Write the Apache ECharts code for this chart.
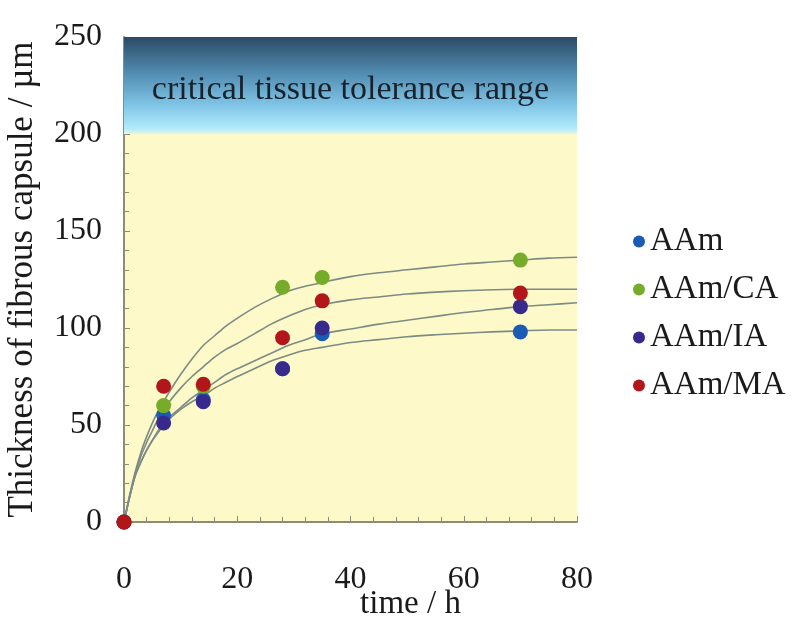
<!DOCTYPE html>
<html>
<head>
<meta charset="utf-8">
<script src="https://cdn.jsdelivr.net/npm/echarts@6/dist/echarts.min.js"></script>
<style>
  html, body { margin: 0; padding: 0; background: #fff; }
  #chart { width: 798px; height: 618px; }
</style>
</head>
<body>
<div id="chart"></div>
<script>
// measured points (time in h, thickness in um)
const timePoints = [0, 7, 14, 28, 35, 70];
const aam = [0, 55, 63, 79, 97, 98];
const aamCa = [0, 60, 70, 121, 126, 135];
const aamIa = [0, 51, 62, 79, 100, 111];
const aamMa = [0, 70, 71, 95, 114, 118];

// fitted curves
const fitTimes = [0, 1, 2, 3, 4, 5, 6, 7, 8, 10, 12, 14, 16, 18, 20, 23, 26, 29, 32, 35, 40, 45, 50, 55, 60, 65, 70, 75, 80];
const fitAam = [0, 13, 24, 31, 37, 42, 46, 50, 53, 58, 62, 65, 69, 72, 75, 79, 83, 86, 88.5, 90, 92.5, 94, 95.5, 96.5, 97.3, 98, 98.5, 99, 99];
const fitAamCa = [0, 14, 26, 36, 44, 51, 57, 62, 67, 76, 84, 91, 96, 101, 105, 110.5, 115, 119, 121.5, 123.5, 126.5, 128.5, 130, 131.5, 133, 134, 135, 136, 136.5];
const fitAamIa = [0, 13, 24, 31, 37, 42, 47, 51, 54, 59, 64, 68, 72, 76, 79, 83, 87, 91, 94, 97, 99.5, 102, 104, 106, 108, 109.5, 111, 112, 113];
const fitAamMa = [0, 13, 25, 34, 41, 47, 53, 58, 62, 69, 75, 80, 85, 89, 92, 97, 102, 106, 109.5, 112, 114.5, 116, 117.5, 118.5, 119.2, 119.7, 120, 120, 120];

const bandRange = [200, 250];
const seriesNames = ['AAm', 'AAm/CA', 'AAm/IA', 'AAm/MA'];
const dotColors = ['#1b5bb4', '#76ac2a', '#38298c', '#b2161b'];

const font = 'Liberation Serif';
const pair = (xs, ys) => xs.map((x, i) => [x, ys[i]]);

const fitLine = (ys) => ({
  type: 'line',
  data: pair(fitTimes, ys),
  smooth: 0.3,
  showSymbol: false,
  silent: true,
  z: 2,
  lineStyle: { color: '#7d8b86', width: 1.6 }
});

const dots = (name, ys, color) => ({
  name: name,
  type: 'scatter',
  data: pair(timePoints, ys),
  symbolSize: 15,
  z: 5,
  itemStyle: { color: color, opacity: 1 }
});

const option = {
  backgroundColor: '#ffffff',
  animation: false,
  grid: {
    left: 124, right: 221, top: 37, bottom: 96,
    containLabel: false,
    outerBoundsMode: 'none',
    show: true, backgroundColor: '#fdf9c8', borderWidth: 0
  },
  legend: {
    data: seriesNames,
    orient: 'vertical',
    left: 628, top: 220,
    itemGap: 15,
    itemWidth: 12, itemHeight: 12,
    icon: 'circle',
    textStyle: { fontFamily: font, fontSize: 33, color: '#1a1a1a' }
  },
  xAxis: {
    type: 'value',
    min: 0, max: 80, interval: 20,
    name: 'time / h',
    nameLocation: 'middle',
    nameGap: 66,
    nameMoveOverlap: false,
    nameTextStyle: { fontFamily: font, fontSize: 33, color: '#1a1a1a', padding: [0, 0, 0, 120] },
    axisLine: { lineStyle: { color: '#8d8c78', width: 2 } },
    axisTick: { inside: true, length: 6, lineStyle: { color: '#8d8c78' } },
    minorTick: { show: true, splitNumber: 5, length: 5, lineStyle: { color: '#8d8c78' } },
    splitLine: { show: false },
    axisLabel: { fontFamily: font, fontSize: 32, color: '#1a1a1a', margin: 42 }
  },
  yAxis: {
    type: 'value',
    min: 0, max: 250, interval: 50,
    name: 'Thickness of fibrous capsule / \u00b5m',
    nameLocation: 'middle',
    nameGap: 84,
    nameMoveOverlap: false,
    nameTextStyle: { fontFamily: font, fontSize: 35, color: '#1a1a1a' },
    axisLine: { lineStyle: { color: '#8d8c78', width: 2 } },
    axisTick: { inside: true, length: 6, lineStyle: { color: '#8d8c78' } },
    minorTick: { show: true, splitNumber: 5, length: 5, lineStyle: { color: '#8d8c78' } },
    splitLine: { show: false },
    axisLabel: { fontFamily: font, fontSize: 32, color: '#1a1a1a', margin: 22 }
  },
  series: [
    {
      type: 'line',
      data: [],
      silent: true,
      z: 1,
      markArea: {
        silent: true,
        itemStyle: {
          color: new echarts.graphic.LinearGradient(0, 0, 0, 1, [
            { offset: 0, color: '#2c4a64' },
            { offset: 0.35, color: '#4f88ad' },
            { offset: 0.7, color: '#7fc4e6' },
            { offset: 0.95, color: '#b4ecfb' },
            { offset: 1, color: '#e8f6e0' }
          ])
        },
        label: {
          show: true,
          position: 'inside',
          offset: [0, 5],
          fontFamily: font,
          fontSize: 34,
          color: '#17222c'
        },
        data: [[
          { name: 'critical tissue tolerance range', xAxis: 0, yAxis: bandRange[0] },
          { xAxis: 80, yAxis: bandRange[1] }
        ]]
      }
    },
    fitLine(fitAam),
    fitLine(fitAamCa),
    fitLine(fitAamIa),
    fitLine(fitAamMa),
    dots(seriesNames[0], aam, dotColors[0]),
    dots(seriesNames[1], aamCa, dotColors[1]),
    dots(seriesNames[2], aamIa, dotColors[2]),
    dots(seriesNames[3], aamMa, dotColors[3])
  ]
};

const chart = echarts.init(document.getElementById('chart'), null, {
  width: 798,
  height: 618,
  renderer: 'canvas',
  devicePixelRatio: 1
});
chart.setOption(option);
</script>
</body>
</html>
